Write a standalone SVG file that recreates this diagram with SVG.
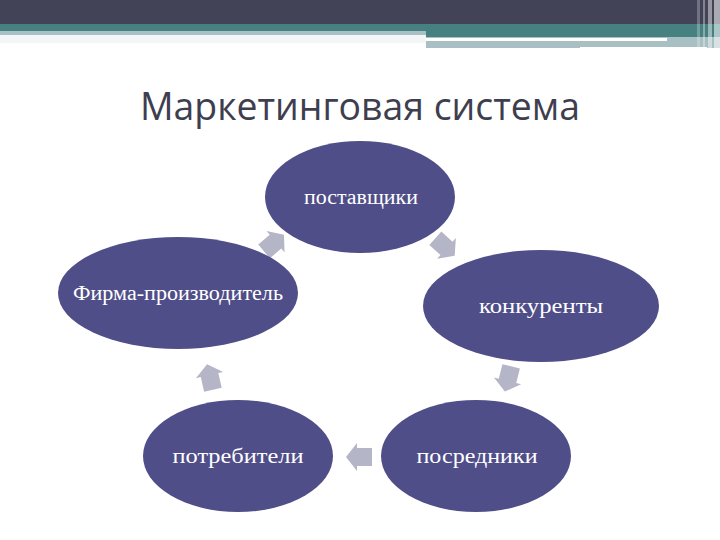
<svg xmlns="http://www.w3.org/2000/svg" width="720" height="540" viewBox="0 0 720 540">
<style>
.node ellipse{fill:#4f4e88;}
.node text{fill:#ffffff;font-family:"Liberation Serif","DejaVu Serif",serif;font-size:20px;text-anchor:middle;}
.arrow{fill:#b4b5c6;}
.title{fill:#3e3e4f;font-family:"Open Sans","Noto Sans","DejaVu Sans",sans-serif;font-size:38px;}
</style>
<defs>
<polygon id="arr" points="-13,-9 2,-9 2,-14 13,0 2,14 2,9 -13,9"/>
</defs>
<rect width="720" height="540" fill="#ffffff"/>
<g id="header">
<rect x="0" y="0" width="720" height="24" fill="#424356"/>
<rect x="0" y="24" width="426" height="7" fill="#468080"/>
<rect x="0" y="31" width="426" height="4" fill="#a8c0c3"/>
<rect x="0" y="35" width="426" height="8" fill="#f3f6f6"/>
<rect x="426" y="24" width="294" height="13" fill="#468080"/>
<rect x="426" y="37" width="294" height="11" fill="#a8bfc3"/>
<rect x="426" y="38" width="241" height="3" fill="#ffffff"/>
<rect x="580" y="47" width="127" height="2" fill="#ffffff"/>
<rect x="697" y="0" width="3" height="48" fill="#ffffff" opacity="0.25"/>
<rect x="703" y="0" width="2" height="48" fill="#ffffff" opacity="0.35"/>
<rect x="708" y="0" width="4" height="48" fill="#ffffff" opacity="0.45"/>
<rect x="714" y="0" width="6" height="48" fill="#ffffff" opacity="0.55"/>
</g>
<text class="title" x="140" y="120" textLength="440" lengthAdjust="spacingAndGlyphs">Маркетинговая система</text>
<g id="connectors">
<use href="#arr" class="arrow" transform="translate(274,243) rotate(-40)"/>
<use href="#arr" class="arrow" transform="translate(445,247) rotate(42)"/>
<use href="#arr" class="arrow" transform="translate(508,379) rotate(104)"/>
<use href="#arr" class="arrow" transform="translate(359,457) rotate(180)"/>
<use href="#arr" class="arrow" transform="translate(210,377) rotate(-103)"/>
</g>
<g id="node-suppliers" class="node">
<ellipse cx="360" cy="197" rx="95" ry="56"/>
<text x="361" y="204" textLength="114" lengthAdjust="spacingAndGlyphs">поставщики</text>
</g>
<g id="node-competitors" class="node">
<ellipse cx="541" cy="306" rx="118" ry="56"/>
<text x="541" y="313" textLength="124" lengthAdjust="spacingAndGlyphs">конкуренты</text>
</g>
<g id="node-intermediaries" class="node">
<ellipse cx="476" cy="456" rx="95" ry="56"/>
<text x="477" y="463" textLength="121" lengthAdjust="spacingAndGlyphs">посредники</text>
</g>
<g id="node-consumers" class="node">
<ellipse cx="238" cy="456" rx="95" ry="56"/>
<text x="238" y="463" textLength="131" lengthAdjust="spacingAndGlyphs">потребители</text>
</g>
<g id="node-firm" class="node">
<ellipse cx="178" cy="293" rx="120" ry="56"/>
<text x="178" y="300" textLength="210" lengthAdjust="spacingAndGlyphs">Фирма-производитель</text>
</g>
</svg>
